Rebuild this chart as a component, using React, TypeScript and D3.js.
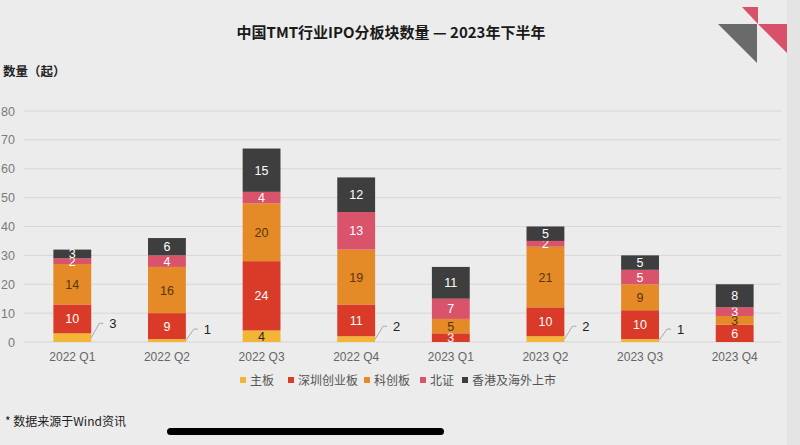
import React from "react";
import * as d3 from "d3";

const categories = ["2022 Q1", "2022 Q2", "2022 Q3", "2022 Q4", "2023 Q1", "2023 Q2", "2023 Q3", "2023 Q4"];
const seriesNames = ["主板", "深圳创业板", "科创板", "北证", "香港及海外上市"];
const mainBoard = [3, 1, 4, 2, 0, 2, 1, 0];
const shenzhenGEM = [10, 9, 24, 11, 3, 10, 10, 6];
const starMarket = [14, 16, 20, 19, 5, 21, 9, 3];
const beijing = [2, 4, 4, 13, 7, 2, 5, 3];
const hongKong = [3, 6, 15, 12, 11, 5, 5, 8];
const yTicks = [0, 10, 20, 30, 40, 50, 60, 70, 80];

const seriesValues = [mainBoard, shenzhenGEM, starMarket, beijing, hongKong];
const colors = ["#f3b535", "#d93b28", "#e48a26", "#d9536b", "#3e3e3f"];
const labelColors = ["#2a2a2a", "#ffffff", "#5a3510", "#ffffff", "#ffffff"];

const W = 800;
const H = 445;
const FONT = "'Liberation Sans', 'Noto Sans CJK SC', sans-serif";
const CJK = "'Noto Sans CJK SC', 'Liberation Sans', sans-serif";

export default function App() {
  const x = d3.scaleBand<string>().domain(categories).range([25, 782]).paddingInner(0.6).paddingOuter(0.3);
  const y = d3.scaleLinear().domain([0, 80]).range([342, 111]);

  const rows = categories.map((c, i) => {
    const r: any = { cat: c };
    seriesNames.forEach((s, k) => (r[s] = seriesValues[k][i]));
    return r;
  });
  const stacked = d3.stack<any>().keys(seriesNames)(rows);

  const legendX = [243, 291, 367, 423, 465];

  return (
    <svg width={W} height={H} style={{ position: "absolute", left: 0, top: 0 }} fontFamily={FONT}>
      <rect x={0} y={0} width={W} height={H} fill="#ececec" />
      <rect x={787} y={0} width={13} height={H} fill="#e4e4e4" />
      {/* decoration */}
      <polygon points="718,24 757,24 757,63" fill="#6a6a6a" />
      <polygon points="742,7 758,7 758,24" fill="#d9506a" />
      <polygon points="758,24 787,24 787,53" fill="#d9506a" />

      <text x={391} y={38} textAnchor="middle" fontSize={15} fontWeight="bold" fill="#1a1a1a" fontFamily={CJK}>
        中国TMT行业IPO分板块数量 — 2023年下半年
      </text>
      <text x={3} y={76} fontSize={12.5} fontWeight="bold" fill="#222" fontFamily={CJK}>
        数量（起）
      </text>

      {yTicks.map((t) => (
        <g key={t}>
          <line x1={24} x2={781} y1={y(t)} y2={y(t)} stroke="#d6d6d6" strokeWidth={1} />
          <text x={15} y={y(t) + 4.5} textAnchor="end" fontSize={12.5} fill="#7a7a7a">
            {t}
          </text>
        </g>
      ))}

      {stacked.map((layer, k) => (
        <g key={layer.key}>
          {layer.map((d, i) => {
            const v = d[1] - d[0];
            if (v <= 0) return null;
            const x0 = x(categories[i])!;
            const bw = x.bandwidth();
            const yTop = y(d[1]);
            const yBot = y(d[0]);
            const external = k === 0 && v < 4;
            const xR = x0 + bw;
            const ys = y(d[0] + v / 2);
            const ye = y(d[1]) - 10;
            return (
              <g key={i}>
                <rect x={x0} y={yTop} width={bw} height={yBot - yTop} fill={colors[k]} />
                {external ? (
                  <g>
                    <polyline
                      points={`${xR},${ys} ${xR + 8},${ye} ${xR + 12},${ye}`}
                      fill="none"
                      stroke="#a8a8a8"
                      strokeWidth={1}
                    />
                    <text x={xR + 18} y={ye + 5} fontSize={13} fill="#222">
                      {v}
                    </text>
                  </g>
                ) : (
                  <text
                    x={x0 + bw / 2}
                    y={(yTop + yBot) / 2 + 4.5}
                    textAnchor="middle"
                    fontSize={12.5}
                    fill={labelColors[k]}
                  >
                    {v}
                  </text>
                )}
              </g>
            );
          })}
        </g>
      ))}

      {categories.map((c) => (
        <text key={c} x={x(c)! + x.bandwidth() / 2} y={361} textAnchor="middle" fontSize={12} fill="#666">
          {c}
        </text>
      ))}

      {seriesNames.map((s, k) => (
        <g key={s}>
          <rect x={legendX[k] - 3} y={377} width={6} height={6} fill={colors[k]} />
          <text x={legendX[k] + 7} y={384.5} fontSize={12} fill="#555" fontFamily={CJK}>
            {s}
          </text>
        </g>
      ))}

      <text x={5} y={426} fontSize={12} fill="#222" fontFamily={CJK}>
        * 数据来源于Wind资讯
      </text>
      <rect x={167} y={428} width={277} height={7} rx={3.5} fill="#000" />
    </svg>
  );
}
